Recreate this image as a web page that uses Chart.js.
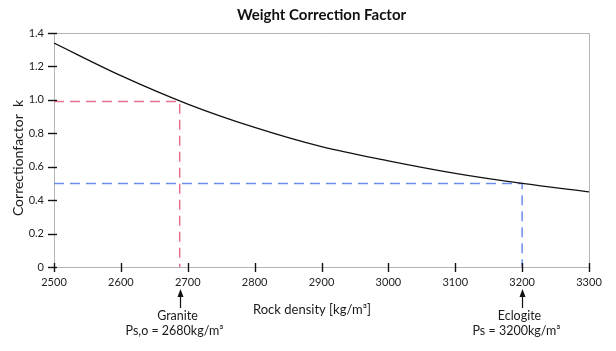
<!DOCTYPE html>
<html>
<head>
<meta charset="utf-8">
<script src="https://cdn.jsdelivr.net/npm/chart.js@4.4.1/dist/chart.umd.min.js"></script>
<style>
  html, body { margin: 0; padding: 0; background: #ffffff; }
  #wrap { width: 616px; height: 351px; position: relative; }
</style>
</head>
<body>
<div id="wrap"><canvas id="c" width="616" height="351"></canvas></div>
<script>
// ---- data ----
const densities = [2500, 2600, 2700, 2800, 2900, 3000, 3100, 3200, 3300];
const kValues   = [1.34, 1.145, 0.975, 0.835, 0.72, 0.635, 0.56, 0.50, 0.45];
const graniteDensity = 2688;   // where the dashed marker is drawn
const graniteK = 0.99;
const eclogiteDensity = 3200;
const eclogiteK = 0.50;
const xMin = 2500, xMax = 3300, xStep = 100;
const yMin = 0, yMax = 1.4, yStep = 0.2;

const titleText = 'Weight Correction Factor';
const xTitle = 'Rock density [kg/m³]';
const yTitle = 'Correctionfactor  k';
const graniteLabel = ['Granite', 'Ps,o = 2680kg/m³'];
const eclogiteLabel = ['Eclogite', 'Ps = 3200kg/m³'];

const FONT = 'Lato, "Open Sans", sans-serif';

const curveData = densities.map((d, i) => ({ x: d, y: kValues[i] }));
const graniteData = [{ x: xMin, y: graniteK }, { x: graniteDensity, y: graniteK }, { x: graniteDensity, y: yMin }];
const eclogiteData = [{ x: xMin, y: eclogiteK }, { x: eclogiteDensity, y: eclogiteK }, { x: eclogiteDensity, y: yMin }];

const decor = {
  id: 'decor',
  beforeDatasetsDraw(chart) {
    const { ctx, chartArea: a } = chart;
    ctx.save();
    ctx.strokeStyle = '#b4b4b4';
    ctx.lineWidth = 1;
    ctx.beginPath();
    ctx.moveTo(a.left, a.top + 0.5); ctx.lineTo(a.right + 0.5, a.top + 0.5);
    ctx.lineTo(a.right + 0.5, a.bottom);
    ctx.stroke();
    ctx.restore();
  },
  afterDraw(chart) {
    const { ctx, chartArea: a, scales } = chart;
    const xs = scales.x, ys = scales.y;
    ctx.save();
    // tick marks
    ctx.strokeStyle = '#111';
    ctx.lineWidth = 1.4;
    ys.ticks.forEach(t => {
      const y = Math.round(ys.getPixelForValue(t.value)) + 0.5;
      ctx.beginPath(); ctx.moveTo(a.left - 6, y); ctx.lineTo(a.left + 3, y); ctx.stroke();
    });
    xs.ticks.forEach(t => {
      const x = Math.round(xs.getPixelForValue(t.value)) + 0.5;
      ctx.beginPath(); ctx.moveTo(x, a.bottom - 4); ctx.lineTo(x, a.bottom + 5); ctx.stroke();
    });
    // title
    ctx.fillStyle = '#111';
    ctx.textAlign = 'center';
    ctx.textBaseline = 'middle';
    ctx.font = 'bold 15px ' + FONT;
    ctx.fillText(titleText, (a.left + a.right) / 2, 15);
    // x title
    ctx.font = '13px ' + FONT;
    ctx.fillStyle = '#1a1a1a';
    ctx.fillText(xTitle, 312, 310);
    // y title
    ctx.save();
    ctx.translate(18, 158);
    ctx.rotate(-Math.PI / 2);
    ctx.font = '14px ' + FONT;
    ctx.fillText(yTitle, 0, 0);
    ctx.restore();
    // annotations
    const drawAnno = (val, lines) => {
      const x = Math.round(xs.getPixelForValue(val)) + 0.5;
      ctx.strokeStyle = '#111';
      ctx.fillStyle = '#111';
      ctx.lineWidth = 1.2;
      ctx.beginPath(); ctx.moveTo(x, 294); ctx.lineTo(x, 308); ctx.stroke();
      ctx.beginPath(); ctx.moveTo(x, 289); ctx.lineTo(x - 3, 297); ctx.lineTo(x + 3, 297); ctx.closePath(); ctx.fill();
      ctx.font = '12.5px ' + FONT;
      ctx.fillStyle = '#1a1a1a';
      ctx.fillText(lines[0], x - 3, 316);
      ctx.fillText(lines[1], x - 6, 331);
    };
    drawAnno(graniteDensity, graniteLabel);
    drawAnno(eclogiteDensity, eclogiteLabel);
    ctx.restore();
  }
};

new Chart(document.getElementById('c'), {
  type: 'line',
  data: {
    datasets: [
      { data: curveData, borderColor: '#111', borderWidth: 1.3, pointRadius: 0, cubicInterpolationMode: 'monotone', order: 0 },
      { data: graniteData, borderColor: '#e8708f', borderWidth: 1.5, borderDash: [10, 6], pointRadius: 0, tension: 0, order: 1 },
      { data: eclogiteData, borderColor: '#6b8ee8', borderWidth: 1.5, borderDash: [10, 6], pointRadius: 0, tension: 0, order: 1 }
    ]
  },
  options: {
    responsive: false,
    animation: false,
    events: [],
    layout: { padding: { top: 33, right: 27, left: 0, bottom: 0 } },
    plugins: { legend: { display: false }, tooltip: { enabled: false }, title: { display: false } },
    scales: {
      x: {
        type: 'linear', min: xMin, max: xMax,
        afterFit(s) { s.height = 84; },
        grid: { display: false, drawTicks: false, tickLength: 0 },
        border: { display: true, color: '#b4b4b4', width: 1 },
        ticks: { stepSize: xStep, padding: 9, color: '#222', font: { family: FONT, size: 11 }, maxRotation: 0,
                 callback: v => String(v) }
      },
      y: {
        type: 'linear', min: yMin, max: yMax,
        afterFit(s) { s.width = 54; },
        grid: { display: false, drawTicks: false, tickLength: 0 },
        border: { display: true, color: '#b4b4b4', width: 1 },
        ticks: { stepSize: yStep, padding: 10, color: '#222', font: { family: FONT, size: 11 },
                 callback: v => (Math.abs(v) < 1e-9 ? '0' : Number(v).toFixed(1)) }
      }
    }
  },
  plugins: [decor]
});
</script>
</body>
</html>
